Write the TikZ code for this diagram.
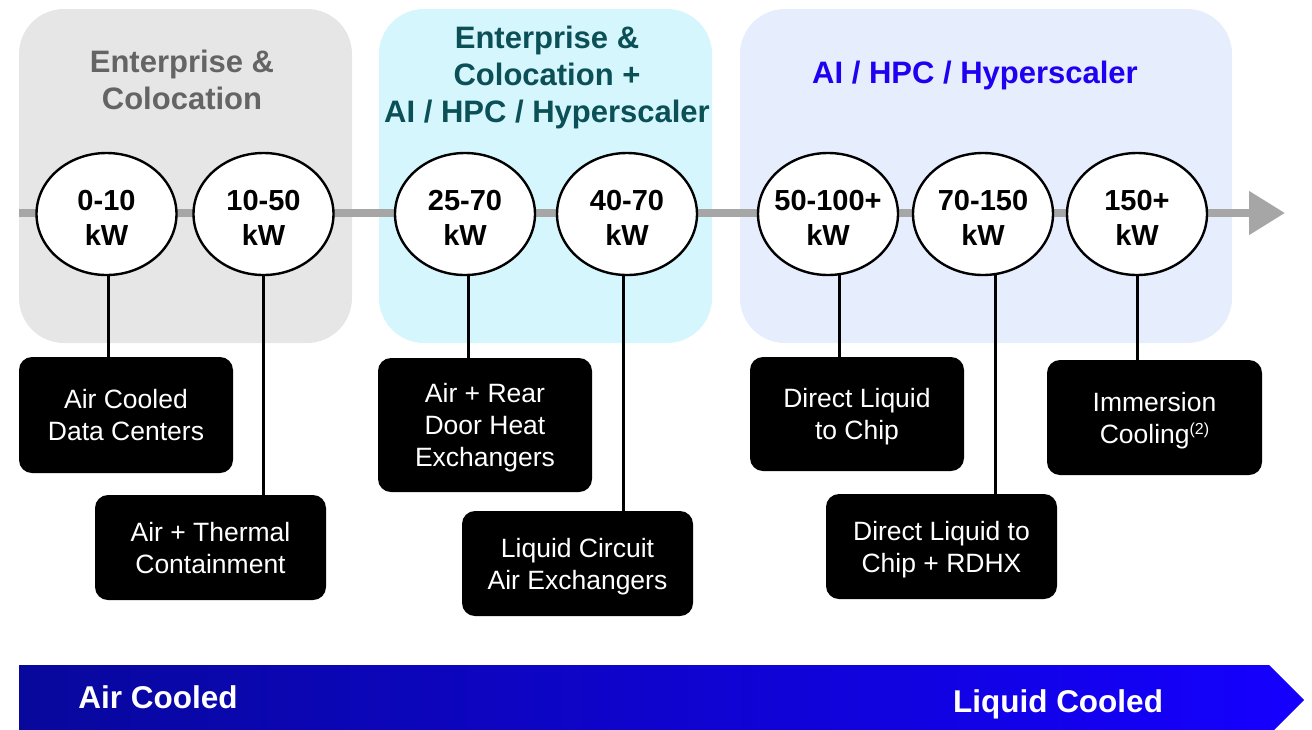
\documentclass[tikz,border=0pt]{standalone}
\usepackage{fontspec}
\setmainfont{Liberation Sans}
\usetikzlibrary{shapes.geometric,arrows.meta}

\definecolor{panelgray}{HTML}{E6E6E6}
\definecolor{panelcyan}{HTML}{D5F6FC}
\definecolor{panelblue}{HTML}{E6EDFD}
\definecolor{headgray}{HTML}{646464}
\definecolor{headteal}{HTML}{0B4F57}
\definecolor{headblue}{HTML}{2000F0}
\definecolor{axisgray}{HTML}{A6A6A6}
\definecolor{bardark}{HTML}{08089C}
\definecolor{barbright}{HTML}{1500FF}

\pgfdeclarelayer{panels}
\pgfdeclarelayer{links}
\pgfsetlayers{panels,links,main}

% centred lines, set a little below the middle of their box
\newcommand\lowlines[1]{\raisebox{-3.5pt}[\height][\depth]{%
  \begin{tabular}{@{}c@{}}#1\end{tabular}}}

\tikzset{
  panel/.style={rounded corners=45pt},
  head/.style={align=center, inner sep=0pt,
    font=\bfseries\fontsize{31}{37}\selectfont},
  rate/.style={ellipse, draw=black, fill=white, line width=2.4pt,
    minimum width=140pt, minimum height=122pt, inner sep=0pt},
  ratetext/.style={align=center, inner sep=0pt, yshift=-4pt,
    font=\bfseries\fontsize{29}{34.5}\selectfont},
  kind/.style={rectangle, rounded corners=13pt, fill=black, text=white,
    inner sep=0pt, font=\fontsize{26.5}{32}\selectfont},
  stem/.style={line width=3pt, black},
  axis/.style={line width=8pt, axisgray,
    -{Triangle[length=36pt,width=42pt]}},
  bartext/.style={text=white, inner sep=0pt,
    font=\bfseries\fontsize{31.5}{36}\selectfont}
}

\begin{document}
\begin{tikzpicture}[x=1pt,y=-1pt]
\useasboundingbox (0,0) rectangle (1312,729);
\clip (0,0) rectangle (1312,729);

% segment panels
\begin{pgfonlayer}{panels}
  \fill[panelgray, panel] (19,9) rectangle (352,343);
  \fill[panelcyan, panel] (379,9) rectangle (712,343);
  \fill[panelblue, panel] (740,9) rectangle (1232,343);
\end{pgfonlayer}

% segment headings
\node[head, text=headgray] (h1) at (182,80) {Enterprise \&\\Colocation};
\node[head, text=headteal] (h2) at (547,77) {Enterprise \&\\Colocation +\\AI / HPC / Hyperscaler};
\node[head, text=headblue] (h3) at (975,75) {AI / HPC / Hyperscaler};

% rack density milestones
\node[rate] (e1) at (106.5,214) {};
\node[rate] (e2) at (263.5,214) {};
\node[rate] (e3) at (465,214) {};
\node[rate] (e4) at (627,214) {};
\node[rate] (e5) at (828,214) {};
\node[rate] (e6) at (983,214) {};
\node[rate] (e7) at (1137,214) {};
\node[ratetext] (t1) at (e1) {0-10\\kW};
\node[ratetext] (t2) at (e2) {10-50\\kW};
\node[ratetext] (t3) at (e3) {25-70\\kW};
\node[ratetext] (t4) at (e4) {40-70\\kW};
\node[ratetext] (t5) at (e5) {50-100+\\kW};
\node[ratetext] (t6) at (e6) {70-150\\kW};
\node[ratetext] (t7) at (e7) {150+\\kW};

% cooling technologies
\node[kind, minimum width=214pt, minimum height=116pt] (b1) at (126,415) {\lowlines{Air Cooled\\Data Centers}};
\node[kind, minimum width=231pt, minimum height=105pt] (b2) at (210.5,547.5) {\lowlines{Air + Thermal\\Containment}};
\node[kind, minimum width=214pt, minimum height=134pt] (b3) at (485,425) {\lowlines{Air + Rear\\Door Heat\\Exchangers}};
\node[kind, minimum width=231pt, minimum height=105pt] (b4) at (577.5,563.5) {\lowlines{Liquid Circuit\\Air Exchangers}};
\node[kind, minimum width=214pt, minimum height=114pt] (b5) at (857,414) {\lowlines{Direct Liquid\\to Chip}};
\node[kind, minimum width=231pt, minimum height=105pt] (b6) at (941.5,546.5) {\lowlines{Direct Liquid to\\Chip + RDHX}};
\node[kind, minimum width=215pt, minimum height=115pt] (b7) at (1154.5,417.5) {\lowlines{Immersion\\Cooling{\fontsize{16}{16}\selectfont\raisebox{9pt}{(2)}}}};

% timeline axis and stems
\coordinate (axis-start) at (19,213);
\coordinate (axis-end) at (1285,213);
\begin{pgfonlayer}{links}
  \draw[axis] (axis-start) -- (axis-end);
  \draw[stem] ([xshift=1.5pt]e1.center) -- ([xshift=1.5pt]e1.center |- b1.north);
  \draw[stem] (e2.center) -- (e2.center |- b2.north);
  \draw[stem] ([xshift=3pt]e3.center) -- ([xshift=3pt]e3.center |- b3.north);
  \draw[stem] ([xshift=-4pt]e4.center) -- ([xshift=-4pt]e4.center |- b4.north);
  \draw[stem] ([xshift=11pt]e5.center) -- ([xshift=11pt]e5.center |- b5.north);
  \draw[stem] ([xshift=12pt]e6.center) -- ([xshift=12pt]e6.center |- b6.north);
  \draw[stem] (e7.center) -- (e7.center |- b7.north);
\end{pgfonlayer}

% air-to-liquid band
\shade[left color=bardark, right color=barbright]
  (19,665) -- (1269,665) -- (1304,700) -- (1269,735) -- (19,735) -- cycle;
\node[bartext] (air) at (158,697) {Air Cooled};
\node[bartext] (liquid) at (1058,704) {Liquid Cooled};
\end{tikzpicture}
\end{document}
